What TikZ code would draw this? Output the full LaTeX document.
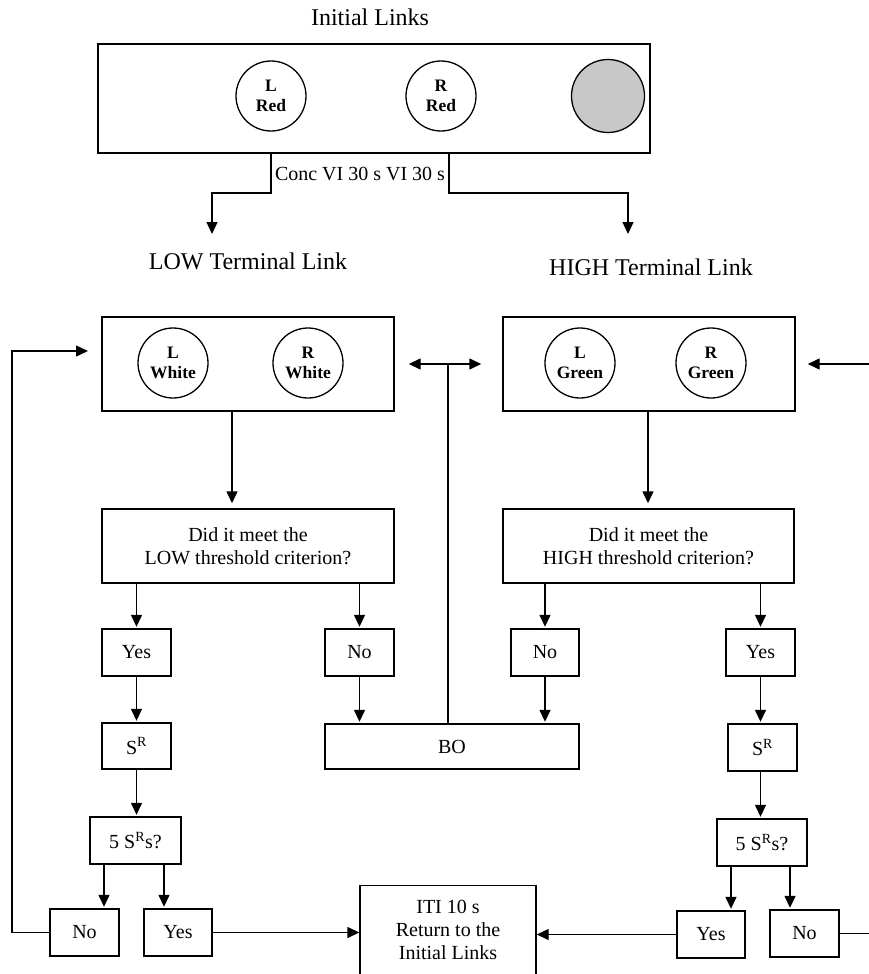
\documentclass[tikz,border=0pt]{standalone}
\usepackage{fontspec}
\setmainfont{Liberation Serif}
\usetikzlibrary{arrows.meta}
\definecolor{discgray}{RGB}{200,200,200}
\tikzset{
  bx/.style={draw, line width=1.4pt, inner sep=0pt, align=center, font=\fontsize{20}{23}\selectfont},
  circ/.style={draw, circle, line width=1.3pt, minimum size=70pt, inner sep=0pt, align=center, font=\bfseries\fontsize{17.5}{20}\selectfont},
  arr/.style={line width=1.4pt, -{Triangle[length=12pt,width=11pt]}, shorten >=1.5pt},
  dblarr/.style={line width=1.4pt, {Triangle[length=12pt,width=11pt]}-{Triangle[length=12pt,width=11pt]}},
  ln/.style={line width=1.4pt},
  head/.style={font=\fontsize{24}{28}\selectfont, inner sep=0pt},
  lab/.style={font=\fontsize{20}{23}\selectfont, inner sep=0pt},
}
\begin{document}
\begin{tikzpicture}[x=1pt, y=-1pt]
\useasboundingbox (0,0) rectangle (869,974);

% headings
\node[head] (title) at (370,17) {Initial Links};
\node[head] (lowt) at (248,261) {LOW Terminal Link};
\node[head] (hight) at (651,267) {HIGH Terminal Link};

% initial links
\node[bx, minimum width=552pt, minimum height=109pt] (tb) at (374,98.5) {};
\node[circ] (lred) at (271,96) {L\\Red};
\node[circ] (rred) at (441,96) {R\\Red};
\node[circ, fill=discgray, minimum size=73pt] (gdisc) at (608,96) {};
\node[lab] (conc) at (360,174) {Conc VI 30 s VI 30 s};

\coordinate (ca) at (212,193);
\coordinate (cb) at (449,193);
\coordinate (cc) at (628,193);
\coordinate (cat) at (212,234);
\coordinate (cct) at (628,234);
\draw[ln, -{Triangle[length=12pt,width=11pt]}] (tb.south -| lred) |- (ca) -- (cat);
\draw[ln, -{Triangle[length=12pt,width=11pt]}] (tb.south -| cb) -- (cb) -- (cc) -- (cct);

% terminal link boxes
\node[bx, minimum width=292pt, minimum height=94pt] (lbox) at (248,364) {};
\node[circ] (lwhite) at (173,363) {L\\White};
\node[circ] (rwhite) at (308,363) {R\\White};
\node[bx, minimum width=292pt, minimum height=94pt] (rbox) at (649,364) {};
\node[circ] (lgreen) at (580,363) {L\\Green};
\node[circ] (rgreen) at (711,363) {R\\Green};

% decisions
\node[bx, minimum width=292pt, minimum height=74pt] (ldec) at (248,546) {Did it meet the\\LOW threshold criterion?};
\node[bx, minimum width=291pt, minimum height=74pt] (rdec) at (648.5,546) {Did it meet the\\HIGH threshold criterion?};
\coordinate (lx) at (232,0);
\coordinate (rx) at (648,0);
\draw[arr, shorten >=5pt] (lbox.south -| lx) -- (ldec.north -| lx);
\draw[arr, shorten >=5pt] (rbox.south -| rx) -- (rdec.north -| rx);

% left branch
\node[bx, minimum width=69pt, minimum height=47pt] (yes1) at (136.5,652.5) {Yes};
\node[bx, minimum width=69pt, minimum height=47pt] (no1) at (359.5,652.5) {No};
\node[bx, minimum width=69pt, minimum height=46pt] (sr1) at (136.5,746) {S\textsuperscript{R}};
\node[bx, minimum width=91pt, minimum height=47pt] (five1) at (135.5,840.5) {5 S\textsuperscript{R}s?};
\node[bx, minimum width=69pt, minimum height=47pt] (no2) at (84.5,932.5) {No};
\node[bx, minimum width=68pt, minimum height=47pt] (yes2) at (178,932.5) {Yes};

% right branch
\node[bx, minimum width=68pt, minimum height=47pt] (no3) at (545,652.5) {No};
\node[bx, minimum width=69pt, minimum height=47pt] (yes3) at (760.5,652.5) {Yes};
\node[bx, minimum width=69pt, minimum height=47pt] (sr2) at (762.5,747.5) {S\textsuperscript{R}};
\node[bx, minimum width=90pt, minimum height=47pt] (five2) at (762,842.5) {5 S\textsuperscript{R}s?};
\node[bx, minimum width=68pt, minimum height=47pt] (yes4) at (711,934.5) {Yes};
\node[bx, minimum width=69pt, minimum height=47pt] (no4) at (804.5,933.5) {No};

% centre
\node[bx, minimum width=254pt, minimum height=45pt] (bo) at (452,746.5) {BO};
\node[bx, minimum width=176pt, minimum height=89pt] (iti) at (448,930) {ITI 10 s\\Return to the\\Initial Links};

% arrows left
\draw[arr] (ldec.south -| yes1) -- (yes1.north);
\draw[arr] (ldec.south -| no1) -- (no1.north);
\draw[arr] (yes1.south) -- (sr1.north);
\draw[arr] (sr1.south) -- (five1.north -| sr1);
\coordinate (fa) at (104,0);
\coordinate (fb) at (164,0);
\draw[arr] (five1.south -| fa) -- (no2.north -| fa);
\draw[arr] (five1.south -| fb) -- (yes2.north -| fb);
\draw[arr, shorten >=0pt] (yes2.east) -- (iti.west |- yes2.east);
\draw[arr] (no1.south) -- (bo.north -| no1);

% arrows right
\draw[arr] (rdec.south -| no3) -- (no3.north);
\draw[arr] (rdec.south -| yes3) -- (yes3.north);
\draw[arr] (yes3.south) -- (sr2.north -| yes3);
\draw[arr] (sr2.south -| yes3) -- (five2.north -| yes3);
\coordinate (fc) at (731,0);
\coordinate (fd) at (790,0);
\draw[arr] (five2.south -| fc) -- (yes4.north -| fc);
\draw[arr] (five2.south -| fd) -- (no4.north -| fd);
\draw[arr, shorten >=0pt] (yes4.west) -- (iti.east |- yes4.west);
\draw[arr] (no3.south) -- (bo.north -| no3);

% loops
\coordinate (lloop) at (12,351);
\coordinate (lend) at (88,351);
\draw[ln, -{Triangle[length=12pt,width=11pt]}] (no2.west) -| (lloop) -- (lend);
\coordinate (rloop) at (872,364);
\draw[ln, -{Triangle[length=12pt,width=11pt]}, shorten >=12pt] (no4.east) -| (rloop) -- (rbox.east);

% BO feedback
\coordinate (bx) at (448,364);
\draw[ln] (bo.north -| bx) -- (bx);
\draw[dblarr, shorten <=14pt, shorten >=21pt] (lbox.east) -- (rbox.west);
\end{tikzpicture}
\end{document}
